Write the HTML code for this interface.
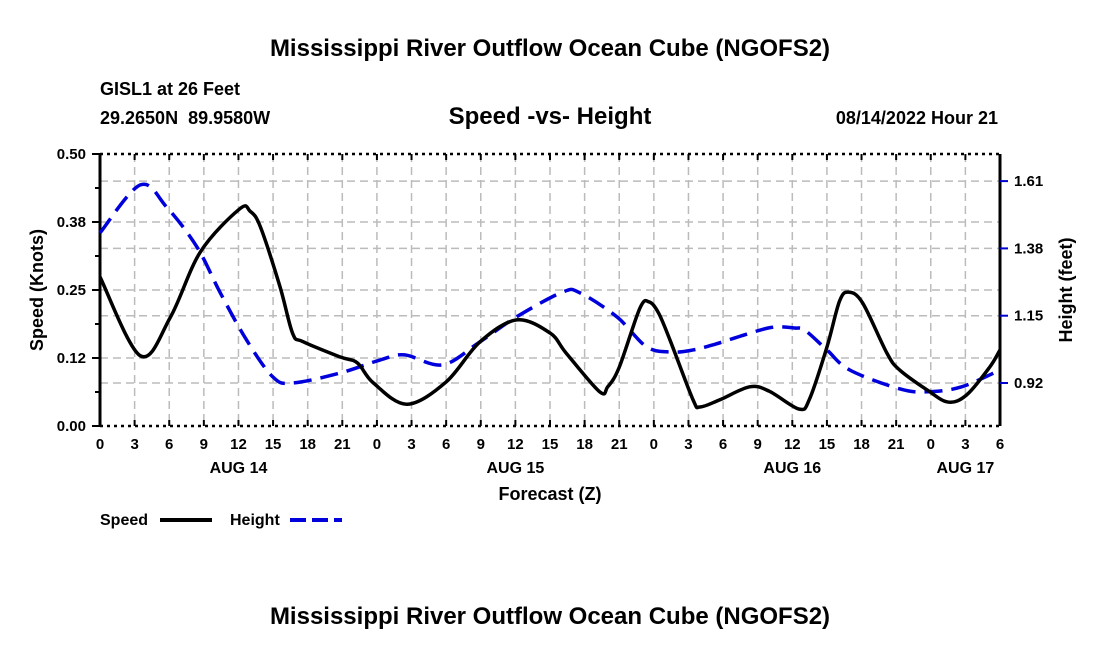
<!DOCTYPE html>
<html><head><meta charset="utf-8"><style>
body{margin:0;background:#fff;font-family:"Liberation Sans",Arial,sans-serif;}
svg text{font-family:"Liberation Sans",Arial,sans-serif;font-weight:bold;fill:#000;white-space:pre;}
</style></head><body>
<svg id="chart" width="1100" height="650" xmlns="http://www.w3.org/2000/svg">
<text x="550" y="56" font-size="24" text-anchor="middle">Mississippi River Outflow Ocean Cube (NGOFS2)</text>
<text x="100" y="95" font-size="18">GISL1 at 26 Feet</text>
<text x="100" y="124" font-size="18" xml:space="preserve">29.2650N  89.9580W</text>
<text x="550" y="124" font-size="24" text-anchor="middle">Speed -vs- Height</text>
<text x="998" y="124" font-size="18" text-anchor="end">08/14/2022 Hour 21</text>
<g id="grid"></g><g id="axes"></g><g id="series"></g>
<text x="550" y="500" font-size="18" text-anchor="middle">Forecast (Z)</text>
<text transform="translate(43,290) rotate(-90)" font-size="18" text-anchor="middle">Speed (Knots)</text>
<text transform="translate(1072,290) rotate(-90)" font-size="18" text-anchor="middle">Height (feet)</text>
<g>
<text x="100" y="525" font-size="16">Speed</text>
<line x1="160" y1="520" x2="212" y2="520" stroke="#000" stroke-width="4"/>
<text x="230" y="525" font-size="16">Height</text>
<line x1="290" y1="520" x2="342" y2="520" stroke="#0000dd" stroke-width="4" stroke-dasharray="16,6"/>
</g>
<text x="550" y="624" font-size="24" text-anchor="middle">Mississippi River Outflow Ocean Cube (NGOFS2)</text>
</svg>
<script>
const speedHours=[0,3.5,6.1,8.7,12.1,13,13.9,15.6,16.7,17.6,20.8,22.3,23.7,26.6,30,32.9,36.1,39,40.4,43.3,44,45,46.8,47.6,48.4,49.4,51.4,52,53.7,56.3,58,60.6,61.5,63,64.1,64.9,66.1,68.2,69.3,71.7,73.5,75.1,77.1,78];
const speedValues=[0.274,0.129,0.2,0.32,0.399,0.395,0.366,0.256,0.17,0.155,0.127,0.116,0.079,0.04,0.081,0.154,0.195,0.171,0.134,0.063,0.072,0.108,0.217,0.228,0.208,0.158,0.048,0.035,0.048,0.072,0.064,0.031,0.05,0.145,0.23,0.246,0.226,0.134,0.103,0.066,0.044,0.057,0.108,0.14];
const heightHours=[0,3.5,5.8,8.4,10.4,12.7,15,16.7,20.8,24.3,26.4,29.7,32.9,36.1,40.1,41.6,44.8,47.4,49.7,51.4,53.1,55.5,58.2,60.2,61.1,63,65,69.3,71.7,74.6,78];
const heightValues=[1.433,1.597,1.52,1.385,1.23,1.067,0.94,0.92,0.954,0.999,1.016,0.982,1.06,1.146,1.231,1.228,1.146,1.043,1.026,1.033,1.05,1.08,1.11,1.108,1.10,1.033,0.964,0.90,0.89,0.906,0.964];
const speedTicks=[0,0.125,0.25,0.375,0.5];
const speedTickLabels=["0.00","0.12","0.25","0.38","0.50"];
const heightTicks=[0.92,1.15,1.38,1.61];
const heightTickLabels=["0.92","1.15","1.38","1.61"];
const dayLabels=["AUG 14","AUG 15","AUG 16","AUG 17"];
const X0=100,X1=1000,Y0=426,Y1=154,HMAX=78;
const ns="http://www.w3.org/2000/svg";
const xS=t=>X0+(t/HMAX)*(X1-X0);
const yS=v=>Y0-(v/0.5)*(Y0-Y1);
const yH=h=>383-(h-0.92)/0.23*67.3;
function mk(tag,attrs,parent){const e=document.createElementNS(ns,tag);for(const k in attrs)e.setAttribute(k,attrs[k]);parent.appendChild(e);return e;}
const grid=document.getElementById('grid'),axes=document.getElementById('axes'),series=document.getElementById('series');
for(let t=3;t<HMAX;t+=3){const l=mk('line',{x1:xS(t),x2:xS(t),y1:Y1,y2:Y0,stroke:'#bbb','stroke-width':1.5,'stroke-dasharray':'8,5'},grid);

}
speedTicks.slice(1,-1).forEach(v=>{const l=mk('line',{x1:X0,x2:X1,y1:yS(v),y2:yS(v),stroke:'#bbb','stroke-width':1.5,'stroke-dasharray':'8,5'},grid);

});
heightTicks.forEach(v=>{const l=mk('line',{x1:X0,x2:X1,y1:yH(v),y2:yH(v),stroke:'#bbb','stroke-width':1.5,'stroke-dasharray':'8,5'},grid);

});
[[X0,Y0,X0,Y1],[X1,Y0,X1,Y1]].forEach(a=>{const l=mk('line',{x1:a[0],y1:a[1],x2:a[2],y2:a[3],stroke:'#000','stroke-width':3},axes);

});
[Y0,Y1].forEach(y=>{const l=mk('line',{x1:X0,y1:y,x2:X1,y2:y,stroke:'#000','stroke-width':2.5,'stroke-dasharray':'3,4'},axes);

});
for(let t=0;t<=HMAX;t+=3){
 [Y0,Y1].forEach(y=>{mk('line',{x1:xS(t),x2:xS(t),y1:y,y2:y+(y===Y0?-6:6),stroke:'#000','stroke-width':2},axes);});
 const tx=mk('text',{x:xS(t),y:449,'font-size':15,'text-anchor':'middle'},axes);tx.textContent=String((t)%24);
 
 
}
dayLabels.forEach((d,i)=>{const tx=mk('text',{x:xS(Math.min(i*24+12,75)),y:473,'font-size':16,'text-anchor':'middle'},axes);tx.textContent=d;
 
 });
speedTicks.forEach((v,i)=>{mk('line',{x1:X0-8,x2:X0,y1:yS(v),y2:yS(v),stroke:'#000','stroke-width':2},axes);
 const tx=mk('text',{x:X0-14,y:yS(v)+5,'font-size':15,'text-anchor':'end'},axes);tx.textContent=speedTickLabels[i];
 
 });
for(let v=0.0625;v<0.5;v+=0.125)mk('line',{x1:X0-5,x2:X0,y1:yS(v),y2:yS(v),stroke:'#000','stroke-width':2},axes);
heightTicks.forEach((v,i)=>{mk('line',{x1:X1,x2:X1+8,y1:yH(v),y2:yH(v),stroke:'#0000cc','stroke-width':2},axes);
 const tx=mk('text',{x:X1+14,y:yH(v)+5,'font-size':15},axes);tx.textContent=heightTickLabels[i];
 
 });
function spline(pts){let d='M'+pts[0][0]+','+pts[0][1];
 for(let i=0;i<pts.length-1;i++){const p0=pts[Math.max(0,i-1)],p1=pts[i],p2=pts[i+1],p3=pts[Math.min(pts.length-1,i+2)];
 const c1=[p1[0]+(p2[0]-p0[0])/6,p1[1]+(p2[1]-p0[1])/6],c2=[p2[0]-(p3[0]-p1[0])/6,p2[1]-(p3[1]-p1[1])/6];
 d+=' C'+c1[0]+','+c1[1]+' '+c2[0]+','+c2[1]+' '+p2[0]+','+p2[1];}return d;}
const hp=mk('path',{d:spline(heightHours.map((t,i)=>[xS(t),yH(heightValues[i])])),fill:'none',stroke:'#0000dd','stroke-width':3.5,'stroke-dasharray':'18,9'},series);


const sp=mk('path',{d:spline(speedHours.map((t,i)=>[xS(t),yS(speedValues[i])])),fill:'none',stroke:'#000','stroke-width':3.5},series);


</script>
</body></html>
